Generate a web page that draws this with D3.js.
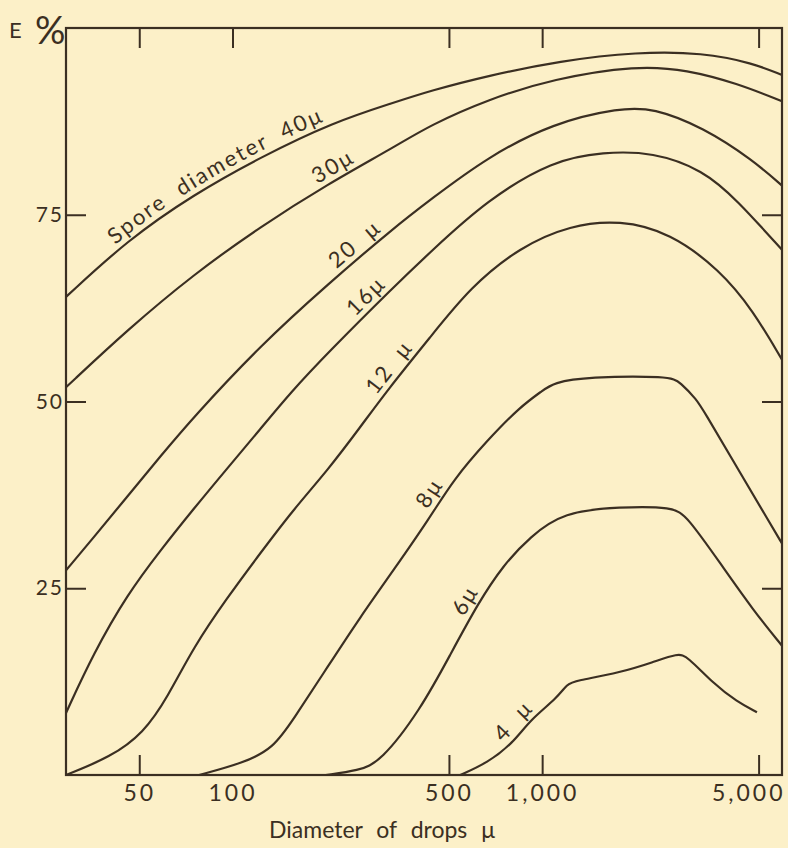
<!DOCTYPE html>
<html>
<head>
<meta charset="utf-8">
<script src="https://cdn.jsdelivr.net/npm/d3@7"></script>
<style>
  html, body { margin: 0; padding: 0; background: #fcf0c8; }
  svg { display: block; }
  text { font-family: Lato, 'DejaVu Sans', sans-serif; fill: #3b2f22; }
</style>
</head>
<body>
<div id="chart"></div>
<script>
// Collection efficiency E (%) vs drop diameter, one curve per spore diameter
// [drop diameter µ, E %]
var spore40 = [[29, 64.0], [45.8, 71.6], [74.8, 77.7], [123, 82.7], [212, 87.4], [331, 90.0], [435, 91.6], [665, 93.6], [1143, 95.6], [2025, 96.8], [3307, 96.7], [4794, 95.3], [5950, 93.7]];
var spore30 = [[29, 51.9], [45.8, 59.6], [74.8, 67.0], [123, 73.4], [203, 79.1], [331, 84.0], [435, 87.0], [665, 90.4], [1085, 93.2], [2025, 95.0], [2937, 94.4], [4256, 92.6], [5950, 90.2]];
var spore20 = [[29, 27.4], [35.6, 31.8], [45.8, 37.3], [58.6, 42.7], [74.8, 47.9], [123, 57.5], [203, 65.7], [331, 73.2], [435, 77.0], [665, 82.7], [1085, 87.3], [1785, 89.3], [2281, 89.3], [3307, 86.7], [4794, 82.3], [5950, 78.9]];
var spore16 = [[29, 8.3], [35.6, 16.3], [45.8, 24.2], [58.6, 30.1], [74.8, 35.6], [96.4, 41.1], [123, 46.3], [154, 51.2], [203, 56.5], [331, 65.3], [435, 70.0], [665, 77.0], [1085, 82.3], [1574, 83.4], [2281, 83.4], [3307, 81.0], [4256, 77.0], [5950, 70.3]];
var spore12 = [[29, 0], [40.4, 2.4], [51.6, 5.6], [61.7, 10.4], [74.8, 17.1], [96.4, 23.8], [123, 29.7], [157, 35.5], [203, 40.8], [259, 46.6], [316, 51.5], [435, 58.6], [586, 65.3], [849, 70.7], [1231, 73.6], [1785, 74.3], [2588, 72.6], [3752, 67.6], [4794, 62.2], [5950, 55.6]];
var spore8 = [[78, 0], [108.5, 1.6], [135.6, 3.6], [157, 7.4], [203, 14.5], [259, 21.2], [331, 27.4], [435, 34.5], [516, 39.5], [665, 44.8], [849, 49.3], [1007, 51.5], [1085, 52.5], [1397, 53.3], [2588, 53.4], [2788, 52.6], [3162, 50.2], [3307, 48.9], [4256, 41.2], [5441, 33.7], [5950, 31.0]];
var spore6 = [[200, 0], [255, 0.6], [300, 1.7], [404, 8.7], [505, 16.1], [621, 23.0], [749, 28.1], [915, 31.9], [1169, 35.2], [1785, 35.9], [2647, 35.9], [2937, 34.6], [3752, 28.4], [4794, 22.1], [5950, 17.3]];
var spore4 = [[544, 0], [665, 1.6], [806, 4.3], [915, 7.4], [1118, 10.3], [1204, 12.2], [1278, 12.6], [1785, 13.7], [2281, 15.1], [2747, 16.3], [2937, 15.9], [3561, 12.3], [4256, 9.8], [4939, 8.4]];

var curves = [spore40, spore30, spore20, spore16, spore12, spore8, spore6, spore4];
var curveLabels = ['Spore diameter 40μ', '30μ', '20 μ', '16μ', '12 μ', '8μ', '6μ', '4 μ'];
var labelAt = [43, 192, 223, 257, 302, 442, 581, 771];   // drop diameter where each label starts

var xTicksTop = [50, 100, 500, 1000, 5000];
var xTicksBottom = [50, 500, 1000, 5000];
var xTickLabels = [50, 100, 500, 1000, 5000];
var yTicks = [25, 50, 75];

var W = 788, H = 848;
var margin = { top: 28, right: 6, bottom: 73, left: 66 };
var ink = '#3b2f22';

var x = d3.scaleLog().domain([29, 5950]).range([margin.left, W - margin.right]);
var y = d3.scaleLinear().domain([0, 100]).range([H - margin.bottom, margin.top]);

var svg = d3.select('#chart').append('svg')
  .attr('width', W)
  .attr('height', H);

// frame
svg.append('rect')
  .attr('x', margin.left)
  .attr('y', margin.top)
  .attr('width', W - margin.left - margin.right)
  .attr('height', H - margin.top - margin.bottom)
  .attr('fill', 'none')
  .attr('stroke', ink)
  .attr('stroke-width', 2.2);

function styleAxis(g) {
  g.select('.domain').remove();
  g.selectAll('.tick line').attr('stroke', ink).attr('stroke-width', 2);
  g.selectAll('.tick text').attr('fill', ink).attr('font-family', 'Lato, sans-serif');
}

// inward tick marks on all four sides
svg.append('g')
  .attr('transform', 'translate(0,' + margin.top + ')')
  .call(d3.axisTop(x).tickValues(xTicksTop).tickSize(-20).tickFormat(''))
  .call(styleAxis);
svg.append('g')
  .attr('transform', 'translate(0,' + (H - margin.bottom) + ')')
  .call(d3.axisBottom(x).tickValues(xTicksBottom).tickSize(-20).tickFormat(''))
  .call(styleAxis);
svg.append('g')
  .attr('transform', 'translate(' + margin.left + ',0)')
  .call(d3.axisLeft(y).tickValues(yTicks).tickSize(-20).tickFormat(''))
  .call(styleAxis);
svg.append('g')
  .attr('transform', 'translate(' + (W - margin.right) + ',0)')
  .call(d3.axisRight(y).tickValues(yTicks).tickSize(-20).tickFormat(''))
  .call(styleAxis);

// tick labels
var xLab = svg.append('g')
  .attr('transform', 'translate(0,' + (H - margin.bottom) + ')')
  .call(d3.axisBottom(x).tickValues(xTickLabels).tickSize(0).tickPadding(10).tickFormat(d3.format(',')))
  .call(styleAxis);
xLab.selectAll('.tick text').attr('font-size', 23).attr('letter-spacing', 3);
// last label would run past the right edge: end it at the frame
xLab.selectAll('.tick text')
  .filter(function (d) { return d === 5000; })
  .attr('text-anchor', 'end')
  .attr('x', W - margin.right - x(5000) + 3);

var yLab = svg.append('g')
  .attr('transform', 'translate(' + margin.left + ',0)')
  .call(d3.axisLeft(y).tickValues(yTicks).tickSize(0).tickPadding(2))
  .call(styleAxis);
yLab.selectAll('.tick text').attr('font-size', 21).attr('letter-spacing', 2);

// axis titles
svg.append('text')
  .attr('x', 9)
  .attr('y', 38)
  .attr('font-size', 22)
  .text('E');
svg.append('text')
  .attr('x', 35)
  .attr('y', 44)
  .attr('font-size', 38)
  .text('%');
svg.append('text')
  .attr('x', 382)
  .attr('y', 838)
  .attr('text-anchor', 'middle')
  .attr('font-size', 23)
  .attr('word-spacing', 8)
  .text('Diameter of drops μ');

// curves
var line = d3.line()
  .x(function (d) { return x(d[0]); })
  .y(function (d) { return y(d[1]); })
  .curve(d3.curveBasis);

var paths = svg.append('g')
  .selectAll('path')
  .data(curves)
  .join('path')
    .attr('id', function (d, i) { return 'curve' + i; })
    .attr('d', line)
    .attr('fill', 'none')
    .attr('stroke', ink)
    .attr('stroke-width', 2.2);

// labels ride along their curve
function offsetAtX(node, px) {
  var lo = 0, hi = node.getTotalLength();
  for (var k = 0; k < 40; k++) {
    var mid = (lo + hi) / 2;
    if (node.getPointAtLength(mid).x < px) lo = mid; else hi = mid;
  }
  return lo;
}

paths.each(function (d, i) {
  svg.append('text')
    .attr('font-size', 22)
    .attr('letter-spacing', 2)
    .attr('word-spacing', 8)
    .attr('dy', -6)
    .append('textPath')
      .attr('href', '#curve' + i)
      .attr('startOffset', offsetAtX(this, x(labelAt[i])))
      .text(curveLabels[i]);
});
</script>
</body>
</html>
